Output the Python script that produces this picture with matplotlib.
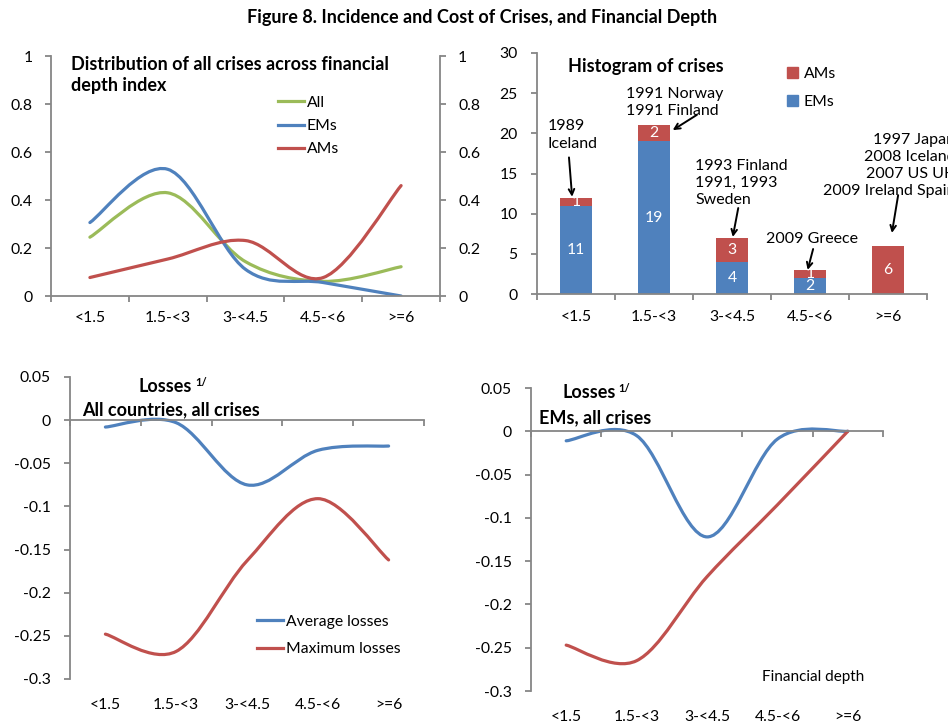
import matplotlib.pyplot as plt
import numpy as np
from matplotlib.path import Path
from matplotlib.patches import PathPatch
from matplotlib.lines import Line2D
from matplotlib.patches import Patch

plt.rcParams['font.family'] = ['Lato', 'DejaVu Sans']

cats = ['<1.5', '1.5-<3', '3-<4.5', '4.5-<6', '>=6']

# distribution of crises (shares)
dist_all = [0.245, 0.43, 0.143, 0.061, 0.122]
dist_ems = [0.306, 0.528, 0.111, 0.056, 0.0]
dist_ams = [0.077, 0.154, 0.231, 0.077, 0.46]

# histogram counts
hist_ems = [11, 19, 4, 2, 0]
hist_ams = [1, 2, 3, 1, 6]

# losses
all_avg = [-0.008, -0.003, -0.075, -0.035, -0.030]
all_max = [-0.248, -0.268, -0.163, -0.091, -0.162]
em_avg = [-0.011, -0.005, -0.122, -0.009, 0.0]
em_max = [-0.247, -0.265, -0.168, -0.085, 0.0]

blue = '#4F81BD'
red = '#C0504D'
green = '#9BBB59'
grey = '#868686'
W, H = 948, 723
BOLD = 13


def smooth(ax, x, y, color):
    # excel-like smoothed line (bezier through the points)
    p = np.column_stack([x, y]).astype(float)
    n = len(p)
    verts = [p[0]]
    codes = [Path.MOVETO]
    for i in range(n - 1):
        p0 = p[i - 1] if i > 0 else p[i]
        p3 = p[i + 2] if i + 2 < n else p[i + 1]
        c1 = p[i] + (p[i + 1] - p0) / 6
        c2 = p[i + 1] - (p3 - p[i]) / 6
        verts += [c1, c2, p[i + 1]]
        codes += [Path.CURVE4] * 3
    ax.add_patch(PathPatch(Path(verts, codes), fill=False, edgecolor=color,
                           lw=2.3, capstyle='round', joinstyle='round'))


def style(ax, right=False):
    for s in ['top', 'right', 'left', 'bottom']:
        ax.spines[s].set_visible(False)
    for s in (['left', 'bottom'] + (['right'] if right else [])):
        ax.spines[s].set_visible(True)
        ax.spines[s].set_color(grey)
        ax.spines[s].set_linewidth(1.3)
    ax.tick_params(colors=grey, labelcolor='black', width=1.3, length=4, labelsize=11.3)
    ax.patch.set_alpha(0)


def cat_labels(ax, xs, off):
    for x, c in zip(xs, cats):
        ax.annotate(c, xy=(x, 0), xycoords=('data', 'axes fraction'),
                    xytext=(0, -off * 0.72), textcoords='offset points',
                    ha='center', va='center', fontsize=11.3)


def rect(l, t, r, b):
    return [l / W, 1 - b / H, (r - l) / W, (b - t) / H]


fig = plt.figure(figsize=(9.48, 7.23), dpi=100)
fig.text(482 / W, 1 - 18 / H, 'Figure 8. Incidence and Cost of Crises, and Financial Depth',
         ha='center', va='center', fontsize=BOLD, fontweight='bold')

# --- top left: distribution
ax1 = fig.add_axes(rect(51, 56, 440, 296))
style(ax1, right=True)
x = np.arange(5) + 0.5
smooth(ax1, x, dist_all, green)
smooth(ax1, x, dist_ems, blue)
smooth(ax1, x, dist_ams, red)
ax1.set_xlim(0, 5)
ax1.set_ylim(0, 1)
yt = [0, 0.2, 0.4, 0.6, 0.8, 1]
ytl = ['0', '0.2', '0.4', '0.6', '0.8', '1']
ax1.set_yticks(yt, ytl)
ax1.set_xticks(range(6), [''] * 6)
ax1.tick_params(axis='y', pad=9, right=True, labelright=True, left=True, direction='out')
cat_labels(ax1, x, 22)
fig.text(71 / W, 1 - 75 / H, 'Distribution of all crises across financial\ndepth index',
         ha='left', va='center', fontsize=BOLD, fontweight='bold', linespacing=1.33)
h1 = [Line2D([], [], color=c, lw=2.3) for c in (green, blue, red)]
ax1.legend(h1, ['All', 'EMs', 'AMs'], loc='upper left', bbox_to_anchor=(0.583, 0.835),
           frameon=False, fontsize=11.3, handlelength=1.7, handletextpad=0.15,
           labelspacing=0.6, borderpad=0, borderaxespad=0)

# --- top right: histogram
ax2 = fig.add_axes(rect(537, 53, 927, 294))
style(ax2)
xb = np.arange(5)
ax2.set_xlim(-0.5, 4.5)
ax2.set_ylim(0, 30)
b1 = ax2.bar(xb, hist_ems, width=0.41, color=blue)
b2 = ax2.bar(xb, hist_ams, width=0.41, bottom=hist_ems, color=red)
ax2.bar_label(b1, labels=[str(v) if v else '' for v in hist_ems], label_type='center',
              color='white', fontsize=11.3)
ax2.bar_label(b2, labels=[str(v) for v in hist_ams], label_type='center',
              color='white', fontsize=11.3)
ax2.set_yticks(range(0, 31, 5))
ax2.set_xticks(np.arange(6) - 0.5, [''] * 6)
ax2.tick_params(axis='y', pad=10)
cat_labels(ax2, xb, 23)
ax2.text(0.08, 0.945, 'Histogram of crises', transform=ax2.transAxes, ha='left',
         va='center', fontsize=BOLD, fontweight='bold')
ax2.legend([Patch(color=red), Patch(color=blue)], ['AMs', 'EMs'], loc='upper left',
           bbox_to_anchor=(0.64, 0.94), frameon=False, fontsize=11.3,
           handlelength=0.7, handleheight=0.7, handletextpad=0.4,
           labelspacing=0.85, borderpad=0, borderaxespad=0)

arw = dict(arrowstyle='->', color='black', lw=1.4, shrinkA=0, shrinkB=0)
ann = dict(fontsize=11.5, linespacing=1.3)
ax2.text(-0.36, 19.8, '1989\nIceland', ha='left', va='center', **ann)
ax2.annotate('', xy=(-0.05, 12.1), xytext=(-0.09, 17.0), arrowprops=arw)
ax2.text(0.64, 23.85, '1991 Norway\n1991 Finland', ha='left', va='center', **ann)
ax2.annotate('', xy=(1.24, 20.4), xytext=(1.55, 22.3), arrowprops=arw)
ax2.text(1.53, 13.8, '1993 Finland\n1991, 1993\nSweden', ha='left', va='center', **ann)
ax2.annotate('', xy=(2.01, 7.1), xytext=(2.08, 10.7), arrowprops=arw)
ax2.text(3.03, 6.85, '2009 Greece', ha='center', va='center', fontsize=11.5)
ax2.annotate('', xy=(2.97, 3.0), xytext=(3.04, 5.6), arrowprops=arw)
ax2.text(4.86, 16.0, '1997 Japan\n2008 Iceland\n2007 US UK\n2009 Ireland Spain',
         ha='right', va='center', multialignment='right', **ann)
ax2.annotate('', xy=(4.05, 7.6), xytext=(4.13, 12.3), arrowprops=arw)

# --- bottom left: losses all countries
ax3 = fig.add_axes(rect(70, 377, 424, 679))
style(ax3)
xl = np.arange(5) + 0.5
smooth(ax3, xl, all_avg, blue)
smooth(ax3, xl, all_max, red)
ax3.set_xlim(0, 5)
ax3.set_ylim(-0.3, 0.05)
ax3.spines['bottom'].set_position(('data', 0))
ax3.set_xticks(range(6), [''] * 6)
yt3 = [0.05, 0, -0.05, -0.1, -0.15, -0.2, -0.25, -0.3]
yt3l = ['0.05', '0', '-0.05', '-0.1', '-0.15', '-0.2', '-0.25', '-0.3']
ax3.set_yticks(yt3, yt3l)
ax3.tick_params(axis='y', pad=10)
cat_labels(ax3, xl, 26)
fig.text(138 / W, 1 - 386 / H, 'Losses', ha='left', va='center', fontsize=BOLD,
         fontweight='bold')
fig.text(195 / W, 1 - 382 / H, '1/', ha='left', va='center', fontsize=8,
         fontweight='bold')
fig.text(82 / W, 1 - 410 / H, 'All countries, all crises', ha='left', va='center',
         fontsize=BOLD, fontweight='bold')
h3 = [Line2D([], [], color=c, lw=2.3) for c in (blue, red)]
ax3.legend(h3, ['Average losses', 'Maximum losses'], loc='upper left',
           bbox_to_anchor=(0.527, 0.212), frameon=False, fontsize=11.3,
           handlelength=1.7, handletextpad=0.15, labelspacing=0.85,
           borderpad=0, borderaxespad=0)

# --- bottom right: losses EMs
ax4 = fig.add_axes(rect(531, 388, 883, 691))
style(ax4)
smooth(ax4, xl, em_avg, blue)
smooth(ax4, xl, em_max, red)
ax4.set_xlim(0, 5)
ax4.set_ylim(-0.3, 0.05)
ax4.spines['bottom'].set_position(('data', 0))
ax4.set_xticks(range(6), [''] * 6)
ax4.set_yticks(yt3, yt3l)
ax4.tick_params(axis='y', pad=10)
cat_labels(ax4, xl, 26)
fig.text(562 / W, 1 - 393 / H, 'Losses', ha='left', va='center', fontsize=BOLD,
         fontweight='bold')
fig.text(618 / W, 1 - 388 / H, '1/', ha='left', va='center', fontsize=8,
         fontweight='bold')
fig.text(539 / W, 1 - 418 / H, 'EMs, all crises', ha='left', va='center',
         fontsize=BOLD, fontweight='bold')
fig.text(762 / W, 1 - 677 / H, 'Financial depth', ha='left', va='center', fontsize=11)

fig.savefig('out.png', dpi=100)
